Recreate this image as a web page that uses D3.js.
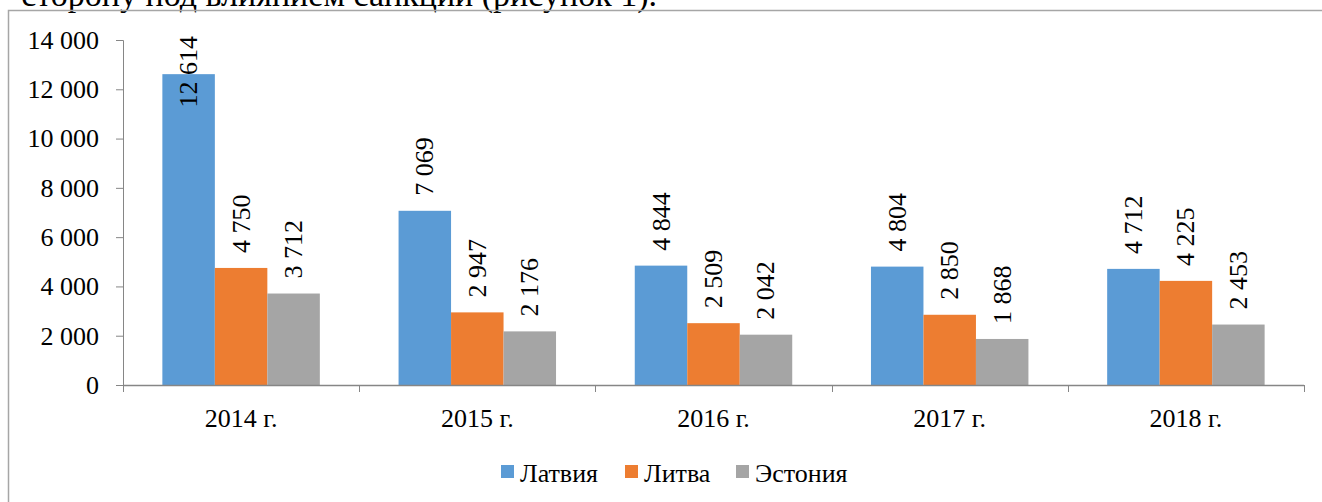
<!DOCTYPE html>
<html><head><meta charset="utf-8">
<script src="https://cdn.jsdelivr.net/npm/d3@7"></script>
<style>html,body{margin:0;padding:0;background:#fff;overflow:hidden}</style>
</head><body>
<svg id="c" width="1322" height="502"></svg>
<script>
const categories = ["2014 г.", "2015 г.", "2016 г.", "2017 г.", "2018 г."];
const seriesNames = ["Латвия", "Литва", "Эстония"];
const latvia = [12614, 7069, 4844, 4804, 4712];
const lithuania = [4750, 2947, 2509, 2850, 4225];
const estonia = [3712, 2176, 2042, 1868, 2453];
const yTicks = [0, 2000, 4000, 6000, 8000, 10000, 12000, 14000];
const colors = ["#5B9BD5", "#ED7D31", "#A5A5A5"];

(function () {
const series = [latvia, lithuania, estonia];
const fmt = v => d3.format(",")(v).replace(/,/g, " ");
const svg = d3.select("#c");
const FF = '"Liberation Serif", "Times New Roman", serif';
const FS = 26;

// cropped body text above the chart
svg.append("text").attr("x", 657).attr("y", 6).attr("text-anchor", "end")
  .style("font-family", FF).attr("font-size", 34).attr("fill", "#000")
  .text("сторону под влиянием санкций (рисунок 1).");

// chart frame
svg.append("path").attr("d", "M8.5,510 L8.5,10.5 L1330,10.5")
  .attr("fill", "none").attr("stroke", "#A6A6A6").attr("stroke-width", 1.5);

const pLeft = 123, pRight = 1304, pTop = 40, pBottom = 385;
const x0 = d3.scaleBand().domain(categories).range([pLeft, pRight]);
const x1 = d3.scaleBand().domain(seriesNames).range([0, x0.bandwidth()]).paddingOuter(0.75).paddingInner(0);
const y = d3.scaleLinear().domain([0, 14000]).range([pBottom, pTop]);

// bars
const g = svg.append("g");
categories.forEach((c, i) => {
  seriesNames.forEach((s, j) => {
    g.append("rect")
      .attr("x", x0(c) + x1(s)).attr("width", x1.bandwidth())
      .attr("y", y(series[j][i])).attr("height", y(0) - y(series[j][i]))
      .attr("fill", colors[j]);
  });
});

// y axis
const yAxis = svg.append("g").attr("transform", `translate(${pLeft},0)`)
  .call(d3.axisLeft(y).tickValues(yTicks).tickSize(7).tickPadding(17).tickFormat(fmt));
yAxis.select(".domain").attr("stroke", "#868686").attr("d", `M-7,${y(14000)+0.5}H0.5V${pBottom}`);
yAxis.selectAll(".tick line").attr("stroke", "#868686");
yAxis.selectAll("text").style("font-family", FF).attr("font-size", FS).attr("fill", "#000");

// x axis
const xAxis = svg.append("g").attr("transform", `translate(0,${pBottom})`);
xAxis.append("line").attr("x1", pLeft).attr("x2", pRight).attr("y1", 0.5).attr("y2", 0.5)
  .attr("stroke", "#868686").attr("stroke-width", 1.5);
const bounds = categories.map(c => x0(c)).concat([pRight]);
xAxis.selectAll(".xt").data(bounds).enter().append("line")
  .attr("x1", d => Math.round(d) + 0.5).attr("x2", d => Math.round(d) + 0.5)
  .attr("y1", 0).attr("y2", 7).attr("stroke", "#868686");
xAxis.selectAll(".xl").data(categories).enter().append("text")
  .attr("x", d => x0(d) + x0.bandwidth() / 2).attr("y", 42)
  .attr("text-anchor", "middle").style("font-family", FF).attr("font-size", FS).attr("fill", "#000")
  .text(d => d);

// data labels (rotated)
categories.forEach((c, i) => {
  seriesNames.forEach((s, j) => {
    const v = series[j][i];
    const cx = x0(c) + x1(s) + x1.bandwidth() / 2;
    const t = svg.append("text").style("font-family", FF).attr("font-size", FS).attr("fill", "#000")
      .attr("dominant-baseline", "central").text(fmt(v));
    const len = t.node().getComputedTextLength();
    const ys = Math.max(y(v) - 15, 36 + len);
    t.attr("transform", `translate(${cx},${ys}) rotate(-90)`);
  });
});

// legend
const legX = [501, 625, 736];
seriesNames.forEach((s, j) => {
  svg.append("rect").attr("x", legX[j]).attr("y", 465).attr("width", 13).attr("height", 13).attr("fill", colors[j]);
  svg.append("text").attr("x", legX[j] + 19).attr("y", 482)
    .style("font-family", FF).attr("font-size", FS).attr("fill", "#000").text(s);
});
})();
</script>
</body></html>
